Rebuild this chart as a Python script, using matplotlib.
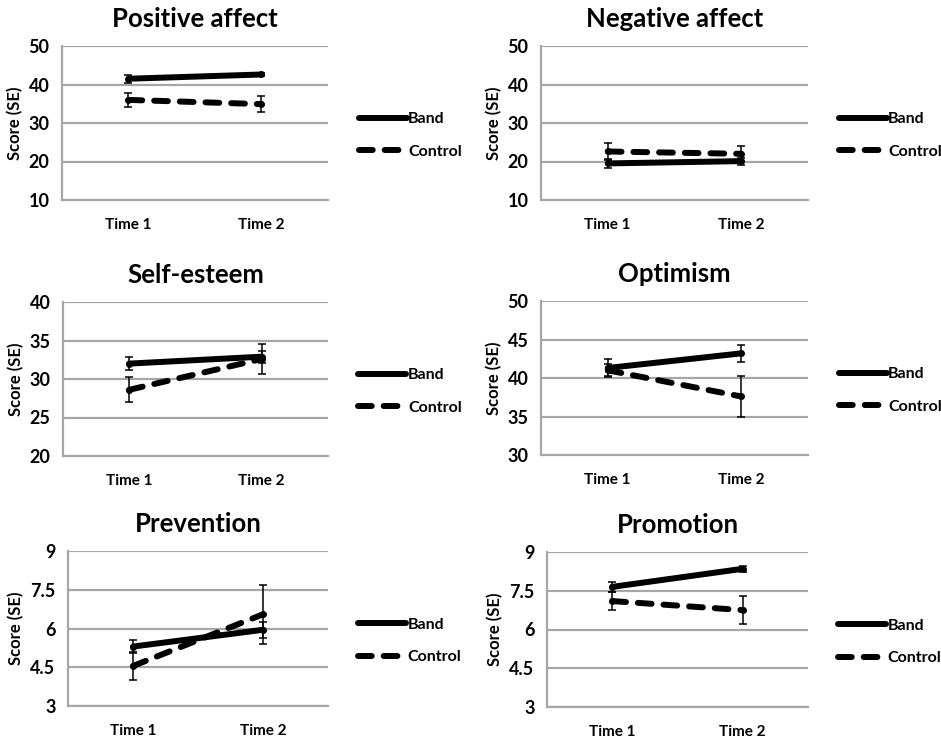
import numpy as np
import matplotlib
matplotlib.use("Agg")
import matplotlib.pyplot as plt

plt.rcParams['font.family'] = ['Lato', 'DejaVu Sans']
plt.rcParams['font.weight'] = 'bold'
plt.rcParams['axes.titleweight'] = 'bold'
plt.rcParams['axes.labelweight'] = 'bold'

times = ["Time 1", "Time 2"]
titles = ["Positive affect", "Negative affect", "Self-esteem", "Optimism", "Prevention", "Promotion"]

band_mean = [[41.5, 42.6], [19.5, 20.1], [32.0, 32.9], [41.3, 43.2], [5.3, 5.95], [7.65, 8.35]]
band_se = [[1.0, 0.5], [1.2, 0.9], [0.8, 0.8], [1.2, 1.1], [0.25, 0.3], [0.2, 0.12]]
control_mean = [[36.0, 34.9], [22.6, 22.0], [28.6, 32.6], [41.0, 37.6], [4.55, 6.55], [7.1, 6.75]]
control_se = [[1.8, 2.1], [2.2, 2.0], [1.6, 1.9], [0.8, 2.6], [0.55, 1.15], [0.35, 0.55]]

y_ranges = [(10, 50, 10), (10, 50, 10), (20, 40, 5), (30, 50, 5), (3, 9, 1.5), (3, 9, 1.5)]
y_fmt = ["%d", "%d", "%d", "%d", "%g", "%g"]

# axes boxes in pixels: left, top, right, bottom
boxes = [(62, 46, 328, 200), (541, 46, 808, 200),
         (63, 302, 328, 456), (541, 301, 808, 455),
         (68, 551, 328, 706), (547, 552, 808, 707)]

W, H = 941, 740
fig = plt.figure(figsize=(W / 100, H / 100), dpi=100)
fig.patch.set_facecolor("white")

grid_col = "#a6a6a6"

for i in range(6):
    l, t, r, b = boxes[i]
    ax = fig.add_axes([l / W, 1 - b / H, (r - l) / W, (b - t) / H])
    x = np.arange(len(times))
    lo, hi, step = y_ranges[i]

    ax.errorbar(x, band_mean[i], yerr=band_se[i], color="black", lw=4.3,
                marker="o", ms=4, elinewidth=1.1, capsize=3, capthick=1.1,
                label="Band", solid_capstyle="round", zorder=3)
    ax.errorbar(x, control_mean[i], yerr=control_se[i], color="black", lw=4.3,
                ls=(0, (2.3, 2.0)), dash_capstyle="round", marker="o", ms=4,
                elinewidth=1.1, capsize=3, capthick=1.1, label="Control", zorder=3)

    ax.set_xlim(-0.5, 1.5)
    ax.set_ylim(lo, hi)
    ticks = np.arange(lo, hi + step / 2, step)
    ax.set_yticks(ticks)
    ax.set_yticklabels([y_fmt[i] % v for v in ticks], fontsize=13, fontweight="bold")
    ax.set_xticks(x)
    ax.set_xticklabels(times, fontsize=11, fontweight="bold")
    ax.tick_params(length=0, pad=9)
    ax.tick_params(axis="x", pad=13)
    ax.yaxis.grid(True, color=grid_col, lw=1.6)
    ax.set_axisbelow(True)
    for s in ["top", "right"]:
        ax.spines[s].set_visible(False)
    ax.spines["left"].set_color(grid_col)
    ax.spines["left"].set_linewidth(1.6)
    ax.spines["bottom"].set_color(grid_col)
    ax.spines["bottom"].set_linewidth(1.6)
    ax.set_ylabel("Score (SE)", fontsize=12, fontweight="bold", labelpad=4)
    ax.set_title(titles[i], fontsize=18.5, fontweight="bold", pad=14)

    handles, labels = ax.get_legend_handles_labels()
    handles = [h[0] for h in handles]
    ax.legend(handles, labels, loc="center left", bbox_to_anchor=(1.115, 0.42),
              frameon=False, handlelength=3.0, handletextpad=0.1,
              labelspacing=1.15, borderaxespad=0, borderpad=0, markerscale=0,
              prop={"size": 11.5, "weight": "bold"})

fig.savefig("out.png", dpi=100)
